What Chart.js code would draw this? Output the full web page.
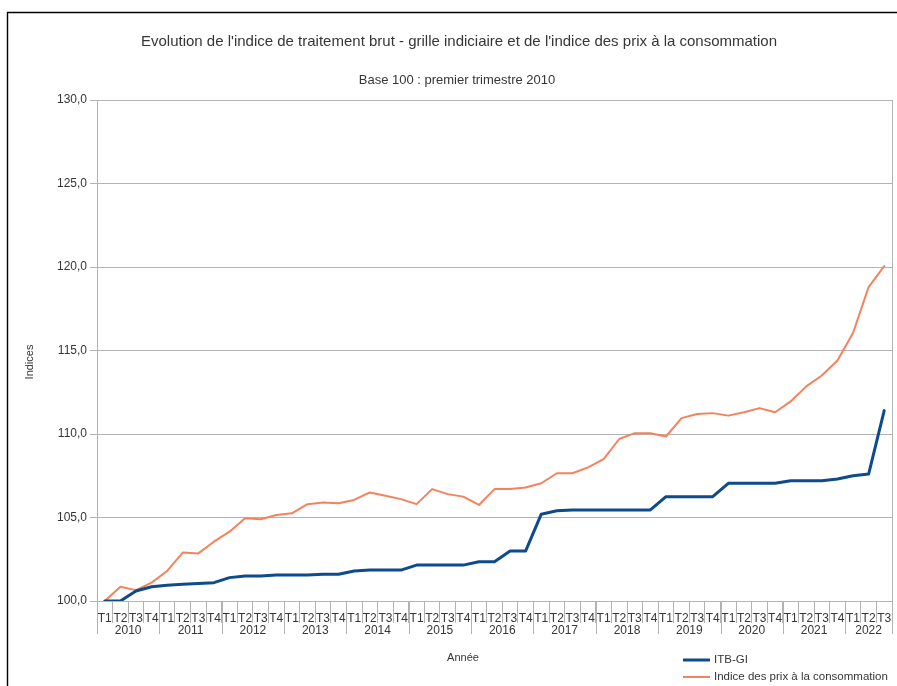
<!DOCTYPE html>
<html lang="fr">
<head>
<meta charset="utf-8">
<title>Evolution ITB-GI et IPC</title>
<script src="https://cdn.jsdelivr.net/npm/chart.js@4/dist/chart.umd.min.js"></script>
<style>
  html, body { margin: 0; padding: 0; background: #fff; }
  #wrap { position: relative; width: 897px; height: 686px; }
</style>
</head>
<body>
<div id="wrap"><canvas id="graphique" width="897" height="686"></canvas></div>
<script>
// Années et trimestres (T1 2010 -> T3 2022)
const annees = ['2010', '2011', '2012', '2013', '2014', '2015', '2016', '2017', '2018', '2019', '2020', '2021', '2022'];
const trimestres = ['T1', 'T2', 'T3', 'T4'];
const trimestresParAnnee = [4, 4, 4, 4, 4, 4, 4, 4, 4, 4, 4, 4, 3];

// Indice de traitement brut - grille indiciaire (base 100 au T1 2010)
const itbGi = [
  100.0, 100.0, 100.6, 100.85,
  100.95, 101.0, 101.05, 101.1,
  101.4, 101.5, 101.5, 101.55,
  101.55, 101.55, 101.6, 101.6,
  101.8, 101.85, 101.85, 101.85,
  102.15, 102.15, 102.15, 102.15,
  102.35, 102.35, 103.0, 103.0,
  105.2, 105.4, 105.45, 105.45,
  105.45, 105.45, 105.45, 105.45,
  106.25, 106.25, 106.25, 106.25,
  107.05, 107.05, 107.05, 107.05,
  107.2, 107.2, 107.2, 107.3,
  107.5, 107.6, 111.4
];

// Indice des prix à la consommation (base 100 au T1 2010)
const ipc = [
  100.0, 100.85, 100.65, 101.1,
  101.8, 102.9, 102.85, 103.55,
  104.15, 104.95, 104.9, 105.15,
  105.25, 105.8, 105.9, 105.85,
  106.05, 106.5, 106.3, 106.1,
  105.8, 106.7, 106.4, 106.25,
  105.75, 106.7, 106.7, 106.8,
  107.05, 107.65, 107.65, 108.0,
  108.5, 109.7, 110.05, 110.05,
  109.85, 110.95, 111.2, 111.25,
  111.1, 111.3, 111.55, 111.3,
  111.95, 112.85, 113.5, 114.4,
  116.05, 118.8, 120.05
];

// Graduations de l'axe des indices
const graduations = [100, 105, 110, 115, 120, 125, 130];

const titre = "Evolution de l'indice de traitement brut - grille indiciaire et de l'indice des prix à la consommation";
const sousTitre = 'Base 100 : premier trimestre 2010';
const titreX = 'Année';
const titreY = 'Indices';

// Libellés de catégories : un trimestre par point
const categories = [];
annees.forEach((a, k) => {
  for (let q = 0; q < trimestresParAnnee[k]; q++) {
    categories.push(trimestres[q]);
  }
});

const POLICE = "'Liberation Sans', Arial, sans-serif";
const TEXTE = '#363636';
const GRILLE = '#b3b3b3';

// Cadre, libellés des années, titres et légende
const habillage = {
  id: 'habillage',
  beforeDraw(chart) {
    const ctx = chart.ctx;
    ctx.save();
    ctx.strokeStyle = '#000';
    ctx.lineWidth = 1.4;
    ctx.beginPath();
    ctx.moveTo(7.5, chart.height);
    ctx.lineTo(7.5, 12.5);
    ctx.lineTo(chart.width, 12.5);
    ctx.stroke();
    ctx.restore();
  },
  afterDraw(chart) {
    const { ctx, chartArea: a } = chart;
    const x = chart.scales.x;
    ctx.save();

    // bord droit de la zone de tracé
    ctx.strokeStyle = GRILLE;
    ctx.lineWidth = 1;
    ctx.beginPath();
    ctx.moveTo(Math.round(a.right) + 0.5, a.top);
    ctx.lineTo(Math.round(a.right) + 0.5, a.bottom);
    ctx.stroke();

    // séparateurs et libellés des années
    ctx.font = '12px ' + POLICE;
    ctx.fillStyle = TEXTE;
    ctx.textAlign = 'center';
    ctx.textBaseline = 'middle';
    const bord = (i) => {
      if (i <= 0) return a.left;
      if (i >= categories.length) return a.right;
      return (x.getPixelForValue(i - 1) + x.getPixelForValue(i)) / 2;
    };
    let debut = 0;
    annees.forEach((an, k) => {
      const fin = debut + trimestresParAnnee[k];
      const g = bord(debut), d = bord(fin);
      ctx.beginPath();
      ctx.moveTo(Math.round(g) + 0.5, a.bottom);
      ctx.lineTo(Math.round(g) + 0.5, a.bottom + 33);
      ctx.moveTo(Math.round(d) + 0.5, a.bottom);
      ctx.lineTo(Math.round(d) + 0.5, a.bottom + 33);
      ctx.stroke();
      ctx.fillText(an, (g + d) / 2, a.bottom + 30);
      debut = fin;
    });

    // titres
    ctx.font = '15px ' + POLICE;
    ctx.fillText(titre, 459, 42);
    ctx.font = '13px ' + POLICE;
    ctx.fillText(sousTitre, 457, 80);

    // titres des axes
    ctx.font = '11px ' + POLICE;
    ctx.fillText(titreX, 463, 658);
    ctx.save();
    ctx.translate(30, 362);
    ctx.rotate(-Math.PI / 2);
    ctx.fillText(titreY, 0, 0);
    ctx.restore();

    // légende
    ctx.font = '11.5px ' + POLICE;
    ctx.textAlign = 'left';
    chart.data.datasets.forEach((ds, i) => {
      const y = 660 + i * 17;
      ctx.strokeStyle = ds.borderColor;
      ctx.lineWidth = ds.borderWidth;
      ctx.beginPath();
      ctx.moveTo(683, y);
      ctx.lineTo(710, y);
      ctx.stroke();
      ctx.fillStyle = TEXTE;
      ctx.fillText(ds.label, 714, y);
    });
    ctx.restore();
  }
};

new Chart(document.getElementById('graphique'), {
  type: 'line',
  data: {
    labels: categories,
    datasets: [
      {
        label: 'ITB-GI',
        data: itbGi,
        borderColor: '#0d4b8c',
        borderWidth: 3,
        pointRadius: 0,
        tension: 0,
        borderJoinStyle: 'round',
        borderCapStyle: 'round'
      },
      {
        label: 'Indice des prix à la consommation',
        data: ipc,
        borderColor: '#f4825c',
        borderWidth: 2,
        pointRadius: 0,
        tension: 0,
        borderJoinStyle: 'round',
        borderCapStyle: 'round'
      }
    ]
  },
  options: {
    responsive: false,
    animation: false,
    devicePixelRatio: 1,
    layout: { padding: { top: 100, left: 0, right: 5, bottom: 0 } },
    plugins: {
      legend: { display: false },
      title: { display: false },
      tooltip: { enabled: false }
    },
    scales: {
      x: {
        type: 'category',
        offset: true,
        afterFit: (s) => { s.height = 85; },
        border: { color: GRILLE, width: 1 },
        grid: { offset: true, drawOnChartArea: false, color: GRILLE, tickLength: 22 },
        ticks: {
          autoSkip: false,
          maxRotation: 0,
          minRotation: 0,
          padding: -12,
          color: TEXTE,
          font: { family: POLICE, size: 12 }
        }
      },
      y: {
        min: graduations[0],
        max: graduations[graduations.length - 1],
        afterFit: (s) => { s.width = 97; },
        afterBuildTicks: (s) => { s.ticks = graduations.map(v => ({ value: v })); },
        border: { color: GRILLE, width: 1 },
        grid: { color: GRILLE, tickLength: 7 },
        ticks: {
          padding: 3,
          color: TEXTE,
          font: { family: POLICE, size: 12 },
          callback: (v) => Number(v).toFixed(1).replace('.', ',')
        }
      }
    }
  },
  plugins: [habillage]
});
</script>
</body>
</html>
